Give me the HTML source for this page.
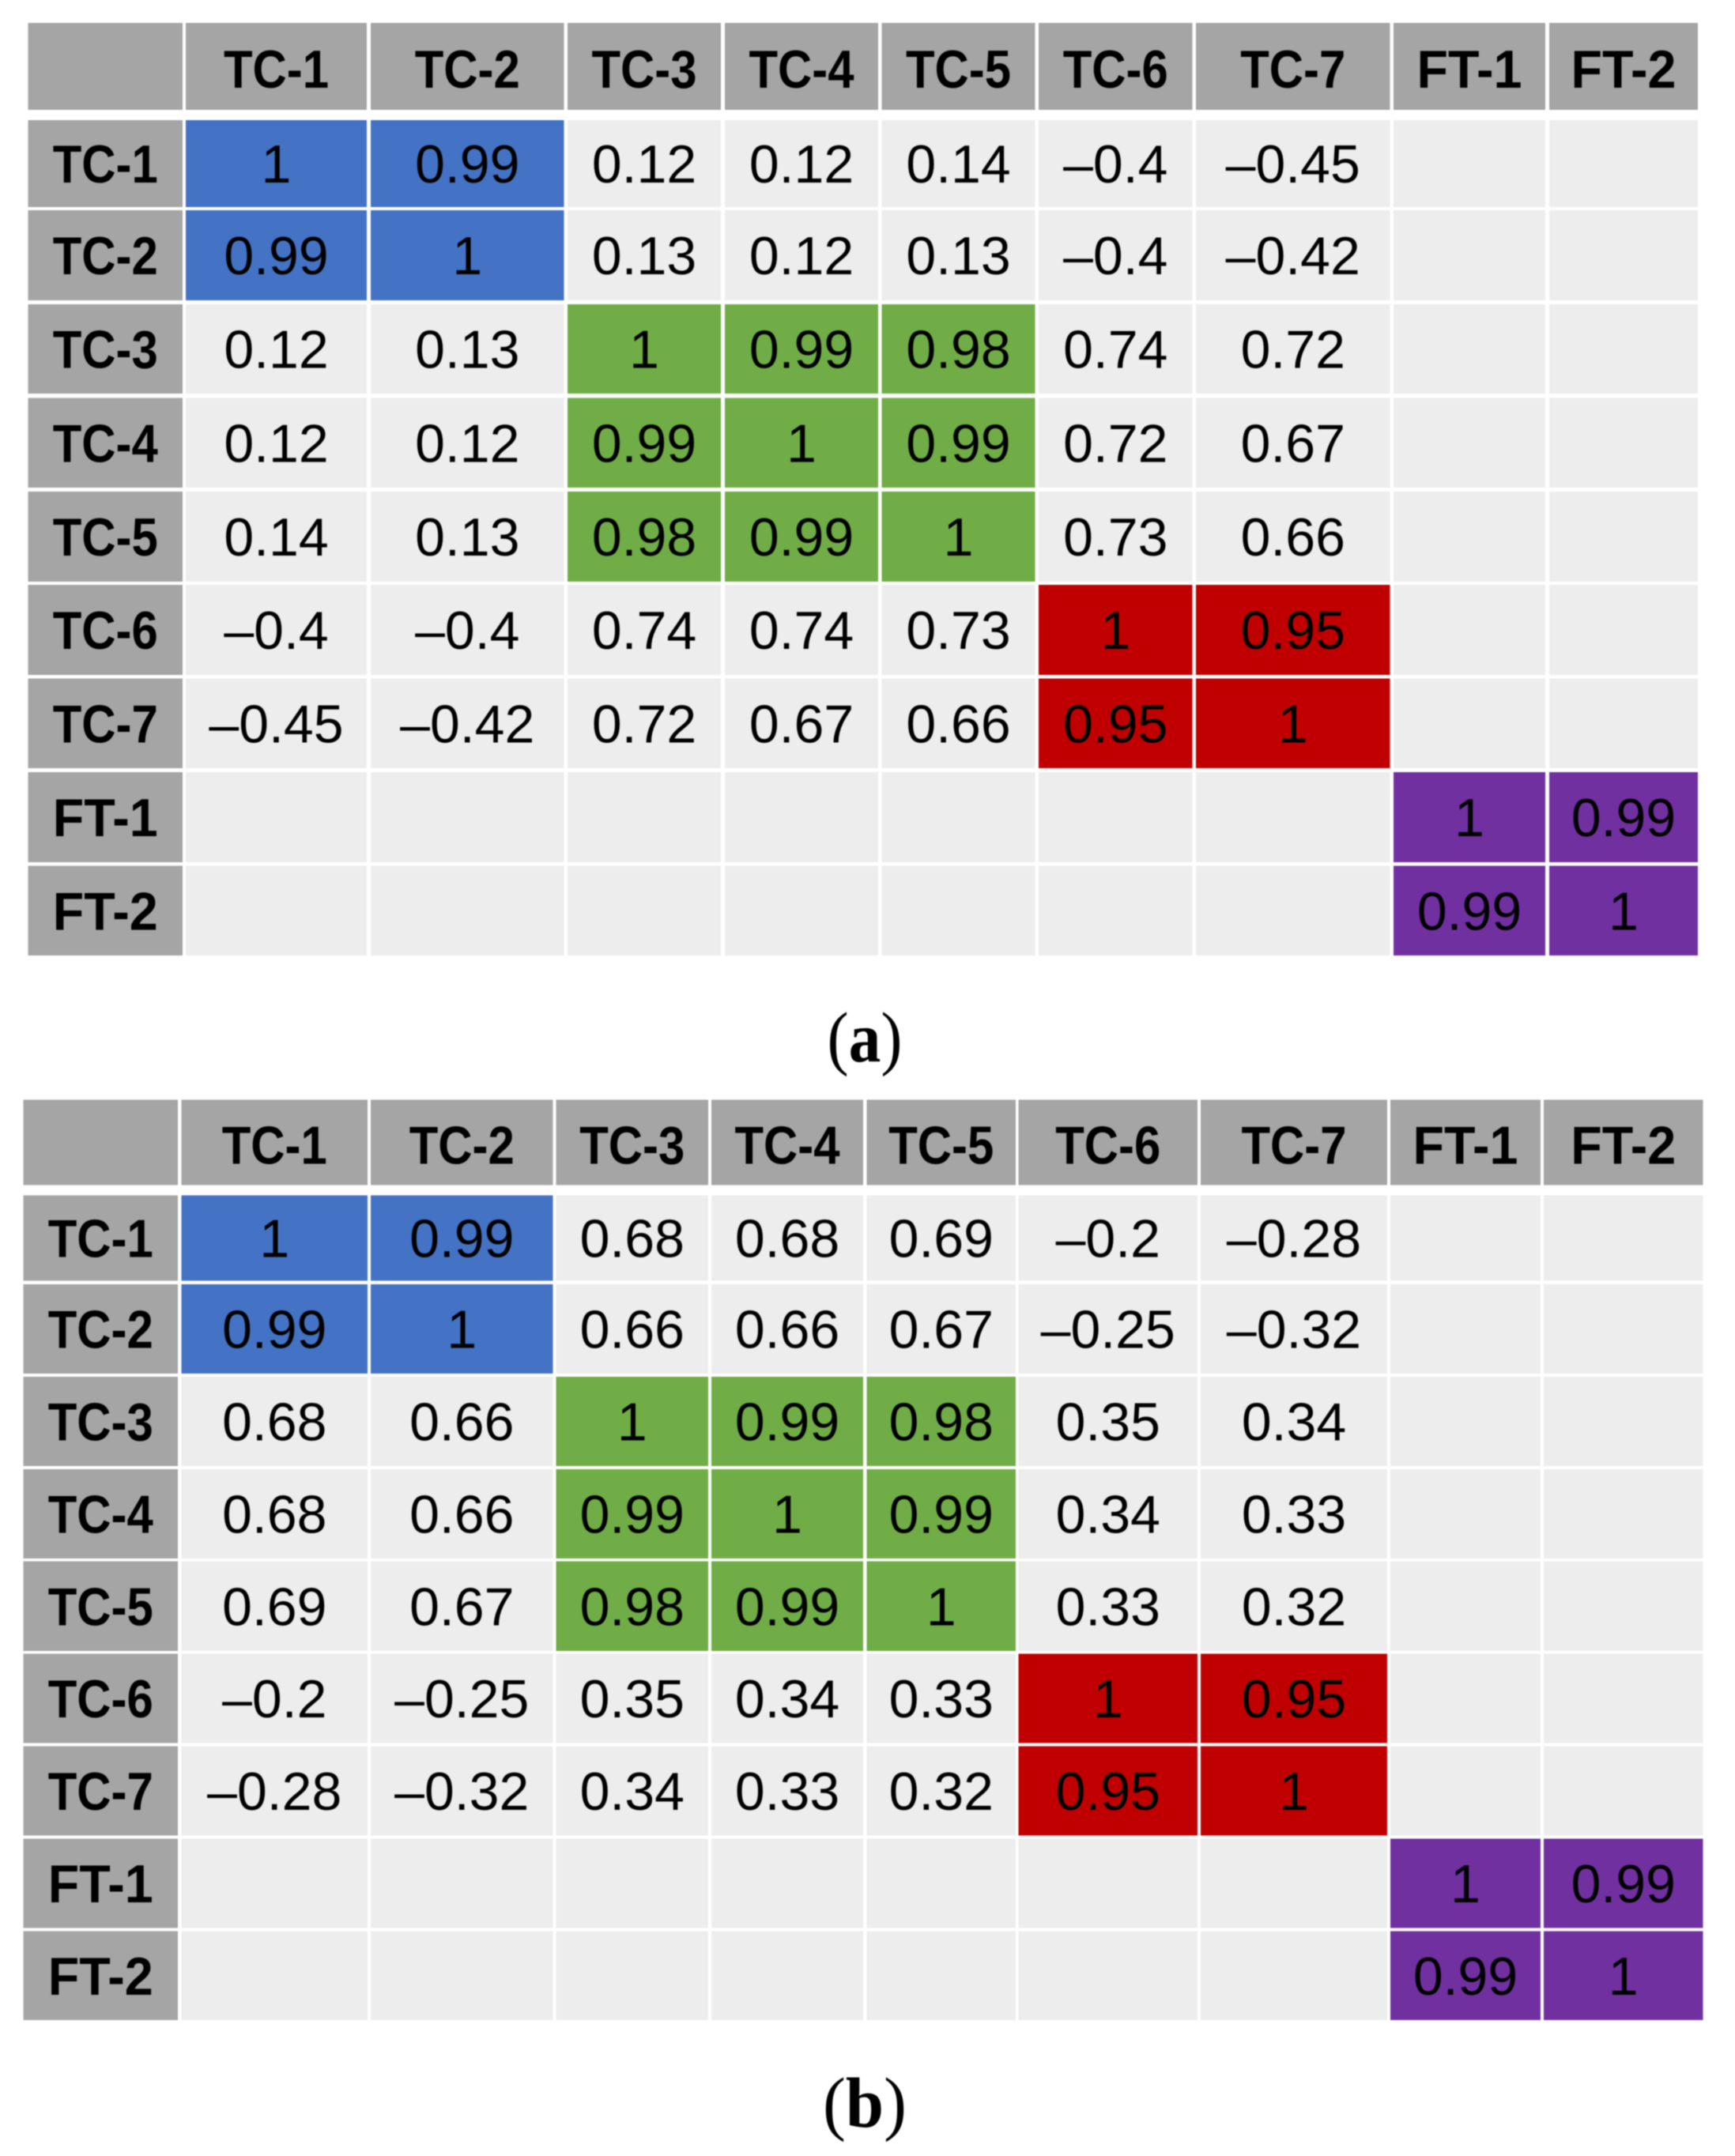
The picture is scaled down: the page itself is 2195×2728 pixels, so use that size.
<!DOCTYPE html>
<html lang="en">
<head>
<meta charset="utf-8">
<title>Correlation matrices</title>
<style>
  html, body { margin: 0; padding: 0; background: #ffffff; }
  #figure { display: block; width: 2195px; height: 2728px; filter: blur(0.8px); }
  text { fill: #000000; text-anchor: middle; }
  .label { font-family: "Liberation Sans", sans-serif; font-weight: 700; font-size: 68px; }
  .value { font-family: "Liberation Sans", sans-serif; font-size: 68px; }
  .caption { font-family: "Liberation Serif", serif; font-size: 90px; }
</style>
</head>
<body>
<svg id="figure" xmlns="http://www.w3.org/2000/svg" width="2195" height="2728" viewBox="0 0 2195 2728">
  <g id="panel-a"></g>
  <text class="caption" x="1094" y="1343" textLength="95" lengthAdjust="spacingAndGlyphs">(<tspan font-weight="700">a</tspan>)</text>
  <g id="panel-b"></g>
  <text class="caption" x="1094" y="2691" textLength="106" lengthAdjust="spacingAndGlyphs">(<tspan font-weight="700">b</tspan>)</text>
</svg>
<script>
// Data
const categories = ['TC-1', 'TC-2', 'TC-3', 'TC-4', 'TC-5', 'TC-6', 'TC-7', 'FT-1', 'FT-2'];
const clusters = ['blue', 'blue', 'green', 'green', 'green', 'red', 'red', 'purple', 'purple'];
const valuesA = [
  [1, 0.99, 0.12, 0.12, 0.14, -0.4, -0.45, null, null],
  [0.99, 1, 0.13, 0.12, 0.13, -0.4, -0.42, null, null],
  [0.12, 0.13, 1, 0.99, 0.98, 0.74, 0.72, null, null],
  [0.12, 0.12, 0.99, 1, 0.99, 0.72, 0.67, null, null],
  [0.14, 0.13, 0.98, 0.99, 1, 0.73, 0.66, null, null],
  [-0.4, -0.4, 0.74, 0.74, 0.73, 1, 0.95, null, null],
  [-0.45, -0.42, 0.72, 0.67, 0.66, 0.95, 1, null, null],
  [null, null, null, null, null, null, null, 1, 0.99],
  [null, null, null, null, null, null, null, 0.99, 1]
];
const valuesB = [
  [1, 0.99, 0.68, 0.68, 0.69, -0.2, -0.28, null, null],
  [0.99, 1, 0.66, 0.66, 0.67, -0.25, -0.32, null, null],
  [0.68, 0.66, 1, 0.99, 0.98, 0.35, 0.34, null, null],
  [0.68, 0.66, 0.99, 1, 0.99, 0.34, 0.33, null, null],
  [0.69, 0.67, 0.98, 0.99, 1, 0.33, 0.32, null, null],
  [-0.2, -0.25, 0.35, 0.34, 0.33, 1, 0.95, null, null],
  [-0.28, -0.32, 0.34, 0.33, 0.32, 0.95, 1, null, null],
  [null, null, null, null, null, null, null, 1, 0.99],
  [null, null, null, null, null, null, null, 0.99, 1]
];

// Grid geometry (layout only, unrelated to the data values)
const gridA = {
  cols: [[35.5, 231], [235, 464], [469, 713.5], [718, 912], [917, 1111], [1115.5, 1309.5], [1314, 1508.5], [1513, 1758.5], [1763, 1955], [1960, 2148]],
  rows: [[29, 139], [152, 262], [266, 380], [385, 498], [503.5, 617], [622, 736], [740, 854], [858.5, 972], [977, 1091], [1095.5, 1209]]
};
const gridB = {
  cols: [[29.5, 225], [229.5, 465], [469, 699.5], [703.5, 896], [900, 1092], [1096.5, 1285], [1288.5, 1515], [1519, 1755], [1759, 1949], [1953, 2154.5]],
  rows: [[1391.5, 1499.5], [1512.5, 1620.5], [1625, 1738], [1742, 1855], [1859, 1972], [1975.5, 2089], [2092.5, 2205.5], [2209.5, 2322.5], [2326.5, 2439.5], [2443.5, 2556]]
};

const clusterColor = { blue: '#4472c4', green: '#70ad47', red: '#c00000', purple: '#7030a0' };
const headerColor = '#a5a5a5';
const emptyColor = '#ededed';
const clusterThreshold = 0.9;
const SVG_NS = 'http://www.w3.org/2000/svg';

function formatValue(v) {
  return String(v).replace('-', '\u2013');
}

function cellFill(v, r) {
  return (v !== null && v >= clusterThreshold) ? clusterColor[clusters[r]] : emptyColor;
}

function drawRect(parent, x0, x1, y0, y1, fill, name) {
  const rect = document.createElementNS(SVG_NS, 'rect');
  rect.setAttribute('x', x0);
  rect.setAttribute('y', y0);
  rect.setAttribute('width', x1 - x0);
  rect.setAttribute('height', y1 - y0);
  rect.setAttribute('fill', fill);
  
  
  parent.appendChild(rect);
}

function drawLabel(parent, str, cx, cy, name) {
  const t = document.createElementNS(SVG_NS, 'text');
  t.setAttribute('class', 'label');
  t.setAttribute('x', cx);
  t.setAttribute('y', cy + 24);
  t.setAttribute('textLength', 133);
  t.setAttribute('lengthAdjust', 'spacingAndGlyphs');
  t.textContent = str;
  
  
  parent.appendChild(t);
}

function drawValue(parent, v, cx, cy, name) {
  const t = document.createElementNS(SVG_NS, 'text');
  t.setAttribute('class', 'value');
  t.setAttribute('x', cx);
  t.setAttribute('y', cy + 24);
  t.textContent = formatValue(v);
  
  
  parent.appendChild(t);
}

function drawTable(parentId, grid, values) {
  const parent = document.getElementById(parentId);
  const xMid = i => (grid.cols[i][0] + grid.cols[i][1]) / 2;
  const yMid = i => (grid.rows[i][0] + grid.rows[i][1]) / 2;

  drawRect(parent, grid.cols[0][0], grid.cols[0][1], grid.rows[0][0], grid.rows[0][1], headerColor, 'corner-cell');

  categories.forEach((cat, c) => {
    const col = c + 1;
    const lower = cat.toLowerCase();
    drawRect(parent, grid.cols[col][0], grid.cols[col][1], grid.rows[0][0], grid.rows[0][1], headerColor, 'column-header-' + lower);
    drawLabel(parent, cat, xMid(col), yMid(0) + 3, 'column-label-' + lower);
  });

  categories.forEach((cat, r) => {
    const row = r + 1;
    const lower = cat.toLowerCase();
    drawRect(parent, grid.cols[0][0], grid.cols[0][1], grid.rows[row][0], grid.rows[row][1], headerColor, 'row-header-' + lower);
    drawLabel(parent, cat, xMid(0), yMid(row), 'row-label-' + lower);
    values[r].forEach((v, c) => {
      const col = c + 1;
      const cellName = 'cell-' + lower + '-' + categories[c].toLowerCase();
      drawRect(parent, grid.cols[col][0], grid.cols[col][1], grid.rows[row][0], grid.rows[row][1], cellFill(v, r), cellName);
      if (v !== null) {
        drawValue(parent, v, xMid(col), yMid(row), 'value-' + lower + '-' + categories[c].toLowerCase());
      }
    });
  });
}

drawTable('panel-a', gridA, valuesA);
drawTable('panel-b', gridB, valuesB);
</script>
</body>
</html>
